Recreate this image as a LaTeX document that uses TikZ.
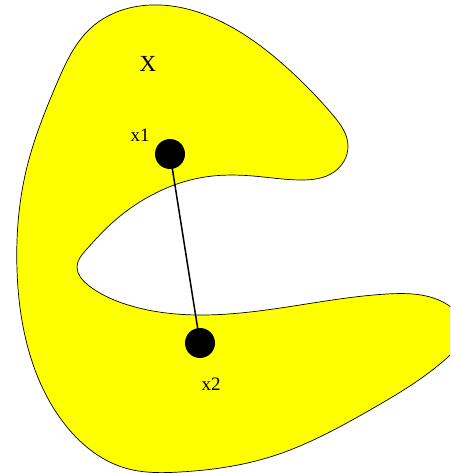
\documentclass[tikz,border=0pt]{standalone}
\usepackage{fontspec}
\setmainfont{Liberation Serif}
\usetikzlibrary{hobby}
\definecolor{blobyellow}{RGB}{255,255,0}
\begin{document}
\begin{tikzpicture}[x=1pt,y=-1pt,
  blob/.style={fill=blobyellow,draw=black,line width=0.7pt},
  dot/.style={circle,fill=black,inner sep=0pt,minimum size=30pt},
  biglabel/.style={font=\fontsize{23}{23}\selectfont,inner sep=0pt},
  smalllabel/.style={font=\fontsize{19}{19}\selectfont,inner sep=0pt},
  link/.style={line width=1.5pt}]
\useasboundingbox (0,0) rectangle (450,473);
\begin{scope}
\clip (0,0) rectangle (450,473);
\draw[blob,use Hobby shortcut,closed=true]
 (160,5) .. (222,22) .. (285,66) .. (332,114) .. (348,146) .. (334,172)
 .. (300,180) .. (253,176) .. (205,177) .. (150,196) .. (112,223)
 .. (86,250) .. (77,267) .. (88,285) .. (125,304) .. (200,315)
 .. (300,305) .. (387,294) .. (448,305) .. (464,330) .. (448,357)
 .. (370,410) .. (270,457) .. (180,472) .. (125,468) .. (67,427)
 .. (30,355) .. (17,270) .. (27,167) .. (57,83) .. (92,27);
\end{scope}
\node[biglabel] (X) at (148,64) {X};
\node[dot] (d1) at (170,154) {};
\node[dot] (d2) at (200,343) {};
\draw[link] (d1.center) -- (d2.center);
\node[smalllabel] (l1) at (140,135) {x1};
\node[smalllabel] (l2) at (211,384) {x2};
\end{tikzpicture}
\end{document}
